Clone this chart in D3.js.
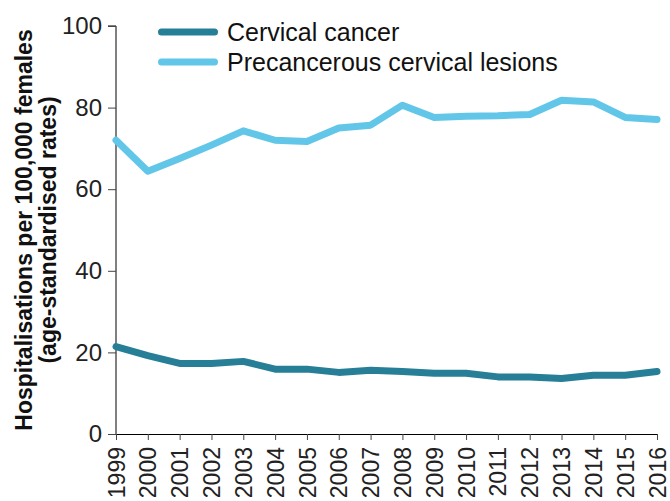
<!DOCTYPE html>
<html><head><meta charset="utf-8">
<script src="https://cdn.jsdelivr.net/npm/d3@7"></script>
<style>body{margin:0;background:#fff}svg{display:block}text{font-family:"Liberation Sans",Arial,sans-serif}</style>
</head><body><svg id="c" width="670" height="501"></svg>
<script>
const years = [1999,2000,2001,2002,2003,2004,2005,2006,2007,2008,2009,2010,2011,2012,2013,2014,2015,2016];
const cervicalCancer = [21.4,19.2,17.3,17.3,17.8,15.9,15.9,15.1,15.6,15.3,14.9,14.9,14.0,14.0,13.6,14.4,14.4,15.3];
const precancerous = [72.0,64.4,67.5,70.8,74.3,72.0,71.7,75.0,75.7,80.6,77.6,77.9,78.0,78.3,81.8,81.4,77.6,77.1];
const yTicks = [0,20,40,60,80,100];
const seriesNames = ["Cervical cancer","Precancerous cervical lesions"];
const colors = ["#267F96","#62C6E8"];

const svg = d3.select("#c");
const L=116,R=657,T=26,B=434;
const x = d3.scalePoint().domain(years).range([L,R]);
const y = d3.scaleLinear().domain([0,100]).range([B,T]);

const ya = svg.append("g").attr("transform",`translate(${L},0)`)
  .call(d3.axisLeft(y).tickValues(yTicks).tickSize(8).tickPadding(6));
ya.select(".domain").attr("stroke","#000").attr("d",`M-8,${T}H0V${B}`);
ya.selectAll("text").attr("font-size",24).attr("fill","#222");
ya.selectAll("line").attr("stroke","#444");

const xa = svg.append("g").attr("transform",`translate(0,${B})`)
  .call(d3.axisBottom(x).tickSize(6).tickSizeOuter(0));
xa.select(".domain").attr("stroke","#000");
xa.selectAll("line").attr("stroke","#444");
xa.selectAll("text").attr("font-size",23).attr("fill","#222")
  .attr("transform","rotate(-90)").attr("text-anchor","end")
  .attr("x",-13).attr("y",0).attr("dy","0.35em");

const line = d3.line().x((d,i)=>x(years[i])).y(d=>y(d));
[cervicalCancer,precancerous].forEach((s,k)=>{
  svg.append("path").datum(s).attr("d",line).attr("fill","none")
    .attr("stroke",colors[k]).attr("stroke-width",7)
    .attr("stroke-linecap","round").attr("stroke-linejoin","round");
});

const lg = svg.append("g");
seriesNames.forEach((n,k)=>{
  const yy = 32 + k*30;
  lg.append("line").attr("x1",161.5).attr("x2",214.5).attr("y1",yy).attr("y2",yy)
    .attr("stroke",colors[k]).attr("stroke-width",7).attr("stroke-linecap","round");
  lg.append("text").attr("x",227).attr("y",yy).attr("dy","0.35em")
    .attr("font-size",25).attr("fill","#111").text(n);
});

svg.append("text").attr("transform","translate(32,230) rotate(-90)")
  .attr("text-anchor","middle").attr("font-size",23).attr("font-weight","bold").attr("fill","#111")
  .text("Hospitalisations per 100,000 females");
svg.append("text").attr("transform","translate(56,230) rotate(-90)")
  .attr("text-anchor","middle").attr("font-size",23).attr("font-weight","bold").attr("fill","#111")
  .text("(age-standardised rates)");
</script></body></html>
